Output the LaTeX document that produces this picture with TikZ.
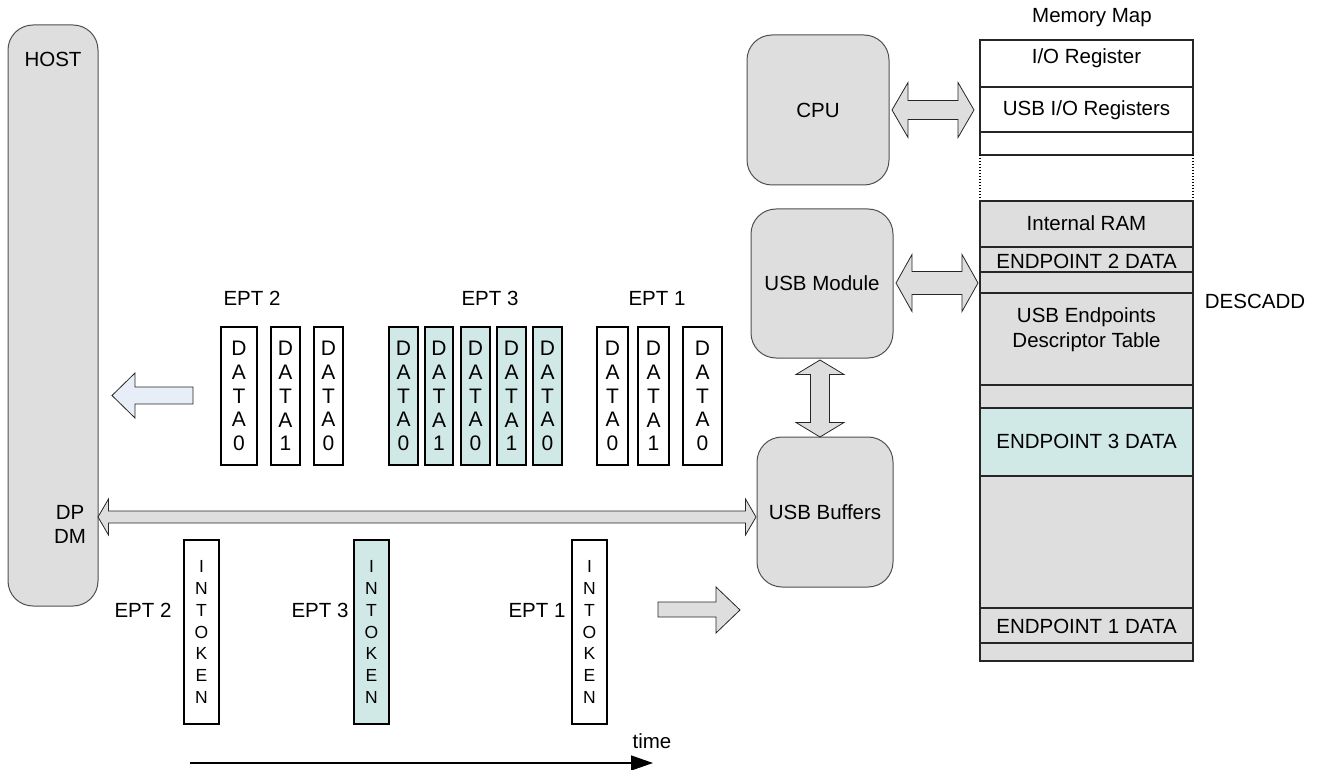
\documentclass[tikz,border=0pt]{standalone}
\usepackage{fontspec}
\setmainfont{Liberation Sans}
\usetikzlibrary{arrows.meta}
\definecolor{boxgray}{HTML}{DEDEDE}
\definecolor{tealfill}{HTML}{D0E8E6}
\definecolor{bluefill}{HTML}{E8EEF8}
\definecolor{edgegray}{HTML}{505050}
% horizontal double block arrow: x1, x2, y, shaft half, head half, head length
\newcommand{\hdblarrow}[6]{%
  \draw[barrow] (#1,#3) -- (#1+#6,#3-#5) -- (#1+#6,#3-#4) -- (#2-#6,#3-#4) -- (#2-#6,#3-#5)
    -- (#2,#3) -- (#2-#6,#3+#5) -- (#2-#6,#3+#4) -- (#1+#6,#3+#4) -- (#1+#6,#3+#5) -- cycle;}
% vertical double block arrow: y1, y2, x, shaft half, head half, head length
\newcommand{\vdblarrow}[6]{%
  \draw[barrow] (#3,#1) -- (#3-#5,#1+#6) -- (#3-#4,#1+#6) -- (#3-#4,#2-#6) -- (#3-#5,#2-#6)
    -- (#3,#2) -- (#3+#5,#2-#6) -- (#3+#4,#2-#6) -- (#3+#4,#1+#6) -- (#3+#5,#1+#6) -- cycle;}
\newcommand{\pktbox}[5]{%
  \node[pkt, fill=#5, minimum width=#2pt] (#1) at (#3,396) {D\\A\\T\\A\\#4};}
\begin{document}
\begin{tikzpicture}[x=1pt,y=-1pt,
  font=\fontsize{20.5}{24}\selectfont,
  rbox/.style={draw=edgegray, fill=boxgray, rounded corners=25pt, line width=1pt, inner sep=0pt},
  pkt/.style={draw=black, line width=1.2pt, inner sep=0pt, align=center, minimum height=138pt,
    font=\fontsize{21}{23.8}\selectfont},
  tok/.style={draw=black, line width=1.2pt, inner sep=0pt, align=center, minimum width=35pt,
    minimum height=184pt, font=\fontsize{17.5}{21.7}\selectfont},
  barrow/.style={draw=black!85, fill=boxgray, line width=0.8pt, line join=miter},
  lbl/.style={inner sep=0pt},
  mem/.style={draw=black!85, line width=1.2pt}]
\useasboundingbox (0,0) rectangle (1318,770);

% ---------- HOST ----------
\node[rbox, minimum width=90pt, minimum height=581pt] (host) at (53,315.5) {};
\node[lbl] (hostt) at (53,59) {HOST};
\node[lbl] (dp) at (70,512) {DP};
\node[lbl] (dm) at (70,536) {DM};

% ---------- right side blocks ----------
\node[rbox, minimum width=142pt, minimum height=150pt] (cpu) at (818,110) {CPU};
\node[rbox, minimum width=142pt, minimum height=149pt] (usbm) at (822,283.5) {USB Module};
\node[rbox, minimum width=136pt, minimum height=150pt] (usbb) at (825,512) {USB Buffers};

% ---------- block arrows ----------
\hdblarrow{98}{756}{517}{6}{18}{10.5}
\hdblarrow{892}{974}{110}{9.5}{27.5}{16}
\hdblarrow{896}{978}{283}{11.5}{28.5}{16}
\vdblarrow{360}{437}{820}{9.5}{24}{14.5}
\draw[barrow, fill=bluefill] (112,395.5) -- (135,373) -- (135,387) -- (193,387) -- (193,404)
  -- (135,404) -- (135,418) -- cycle;
\draw[barrow] (740,610) -- (716,587) -- (716,602) -- (658,602) -- (658,617) -- (716,617)
  -- (716,633) -- cycle;

% ---------- data packets ----------
\node[lbl] (ept2a) at (252,298) {EPT 2};
\node[lbl] (ept3a) at (490,298) {EPT 3};
\node[lbl] (ept1a) at (657,298) {EPT 1};
\pktbox{p21}{36}{239}{0}{white}
\pktbox{p22}{29}{285.5}{1}{white}
\pktbox{p23}{29}{328.5}{0}{white}
\pktbox{p31}{29}{403.5}{0}{tealfill}
\pktbox{p32}{28}{439}{1}{tealfill}
\pktbox{p33}{29}{475.5}{0}{tealfill}
\pktbox{p34}{29}{511.5}{1}{tealfill}
\pktbox{p35}{29}{547.5}{0}{tealfill}
\pktbox{p11}{31}{612.5}{0}{white}
\pktbox{p12}{31}{653.5}{1}{white}
\pktbox{p13}{39}{702.5}{0}{white}

% ---------- tokens ----------
\node[tok, fill=white] (tk2) at (201.5,632) {I\\N\\T\\O\\K\\E\\N};
\node[tok, fill=tealfill] (tk3) at (371.5,632) {I\\N\\T\\O\\K\\E\\N};
\node[tok, fill=white] (tk1) at (589.5,632) {I\\N\\T\\O\\K\\E\\N};
\node[lbl] (e2b) at (143,610) {EPT 2};
\node[lbl] (e3b) at (320,610) {EPT 3};
\node[lbl] (e1b) at (537,610) {EPT 1};

% ---------- time axis ----------
\coordinate (t0) at (190,763);
\coordinate (t1) at (653,763);
\draw[line width=1.3pt, -{Triangle[length=22pt,width=15pt]}] (t0) -- (t1);
\node[lbl] (time) at (652,741) {time};

% ---------- memory map ----------
\node[lbl] (mmt) at (1092,18) {Memory Map};
\draw[mem, fill=white] (980,40) rectangle (1193,87);
\draw[mem, fill=white] (980,87) rectangle (1193,132);
\draw[mem, fill=white] (980,132) rectangle (1193,155);
\draw[line width=1.2pt, dash pattern=on 1.5pt off 1.5pt] (980,155) -- (980,201);
\draw[line width=1.2pt, dash pattern=on 1.5pt off 1.5pt] (1193,155) -- (1193,201);
\draw[mem, fill=boxgray] (980,201) rectangle (1193,247);
\draw[mem, fill=boxgray] (980,247) rectangle (1193,272);
\draw[mem, fill=boxgray] (980,272) rectangle (1193,293);
\draw[mem, fill=boxgray] (980,293) rectangle (1193,385);
\draw[mem, fill=boxgray] (980,385) rectangle (1193,408);
\draw[mem, fill=tealfill] (980,408) rectangle (1193,476);
\draw[mem, fill=boxgray] (980,476) rectangle (1193,608);
\draw[mem, fill=boxgray] (980,608) rectangle (1193,643);
\draw[mem, fill=boxgray] (980,643) rectangle (1193,661);
\node[lbl] (m1) at (1086.5,58) {I/O Register};
\node[lbl] (m2) at (1086.5,110) {USB I/O Registers};
\node[lbl] (m3) at (1086.5,223) {Internal RAM};
\node[lbl] (m4) at (1086.5,261) {ENDPOINT 2 DATA};
\node[lbl] (m5) at (1086.5,317) {USB Endpoints};
\node[lbl] (m6) at (1086.5,342) {Descriptor Table};
\node[lbl] (m7) at (1086.5,441) {ENDPOINT 3 DATA};
\node[lbl] (m8) at (1086.5,626) {ENDPOINT 1 DATA};
\node[lbl] (desc) at (1255,301) {DESCADD};
\end{tikzpicture}
\end{document}
